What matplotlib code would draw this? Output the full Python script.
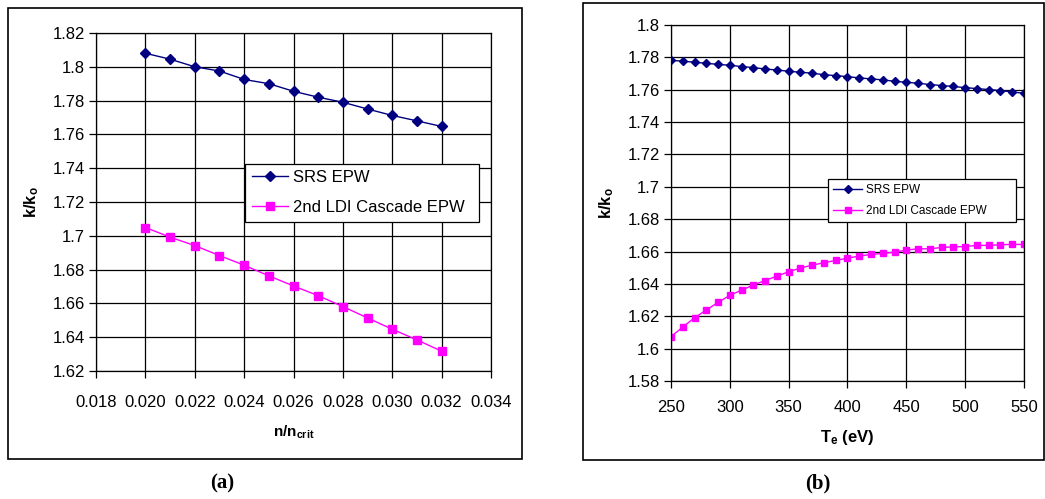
import matplotlib.pyplot as plt
from matplotlib.patches import Rectangle

plt.rcParams['font.family'] = ['Liberation Sans', 'DejaVu Sans']
plt.rcParams['mathtext.fontset'] = 'custom'
plt.rcParams['mathtext.rm'] = 'Liberation Sans:bold'
plt.rcParams['mathtext.it'] = 'Liberation Sans:bold'
plt.rcParams['mathtext.bf'] = 'Liberation Sans:bold'

# panel (a): k/ko vs density
dens = [0.020, 0.021, 0.022, 0.023, 0.024, 0.025, 0.026,
        0.027, 0.028, 0.029, 0.030, 0.031, 0.032]
srs_a = [1.808, 1.8045, 1.800, 1.7975, 1.7925, 1.790, 1.7855,
         1.782, 1.779, 1.775, 1.7712, 1.768, 1.7647]
ldi_a = [1.7049, 1.6992, 1.6942, 1.6883, 1.6826, 1.6763, 1.6703,
         1.6646, 1.6581, 1.6514, 1.6447, 1.6384, 1.6317]
xticks_a = [0.018, 0.020, 0.022, 0.024, 0.026, 0.028, 0.030, 0.032, 0.034]
yticks_a = [1.62, 1.64, 1.66, 1.68, 1.70, 1.72, 1.74, 1.76, 1.78, 1.80, 1.82]

# panel (b): k/ko vs electron temperature
temp = list(range(250, 551, 10))
srs_b = [1.7782, 1.7776, 1.7770, 1.7763, 1.7757, 1.7751, 1.7743, 1.7737,
         1.7728, 1.7722, 1.7714, 1.7708, 1.7702, 1.7693, 1.7687, 1.7681,
         1.7673, 1.7667, 1.7661, 1.7652, 1.7646, 1.7640, 1.7632, 1.7626,
         1.7620, 1.7613, 1.7607, 1.7601, 1.7595, 1.7586, 1.7578]
ldi_b = [1.6074, 1.6133, 1.6191, 1.6238, 1.6286, 1.6329, 1.6362, 1.6393,
         1.6421, 1.6448, 1.6475, 1.6498, 1.6516, 1.6531, 1.6545, 1.6559,
         1.6572, 1.6582, 1.6588, 1.6596, 1.6609, 1.6617, 1.6617, 1.6625,
         1.6629, 1.6631, 1.6638, 1.6638, 1.6642, 1.6644, 1.6644]
xticks_b = [250, 300, 350, 400, 450, 500, 550]
yticks_b = [1.58, 1.60, 1.62, 1.64, 1.66, 1.68, 1.70, 1.72, 1.74, 1.76, 1.78, 1.80]

navy = '#000080'
magenta = '#FF00FF'


def fmt(v):
    s = '%.2f' % v
    if s.endswith('0'):
        s = s[:-1]
    return s


def style_axes(ax):
    ax.grid(True, color='black', linewidth=0.9)
    ax.set_axisbelow(True)
    for sp in ax.spines.values():
        sp.set_color('black')
        sp.set_linewidth(0.9)
    ax.tick_params(direction='out', length=5, width=0.9, labelsize=12, pad=3)


fig = plt.figure(figsize=(10.45, 4.99), dpi=100)

# outer frames
fig.patches.append(Rectangle((0.0077, 0.0802), 0.4919, 0.9038, transform=fig.transFigure,
                             fill=False, edgecolor='black', linewidth=1.2))
fig.patches.append(Rectangle((0.5579, 0.0782), 0.4411, 0.9158, transform=fig.transFigure,
                             fill=False, edgecolor='black', linewidth=1.2))

# (a)
ax1 = fig.add_axes([0.0919, 0.2565, 0.378, 0.6774])
ax1.plot(dens, srs_a, color=navy, marker='D', markersize=5.5, linewidth=1, label='SRS EPW')
ax1.plot(dens, ldi_a, color=magenta, marker='s', markersize=6, linewidth=1,
         label='2nd LDI Cascade EPW')
ax1.set_xlim(0.018, 0.034)
ax1.set_ylim(1.62, 1.82)
ax1.set_xticks(xticks_a)
ax1.set_xticklabels(['%.3f' % v for v in xticks_a])
ax1.set_yticks(yticks_a)
ax1.set_yticklabels([fmt(v) for v in yticks_a])
style_axes(ax1)
ax1.tick_params(axis='x', pad=12)
ax1.set_xlabel(r'n/n$_{crit}$', fontsize=11, fontweight='bold', labelpad=10)
ax1.set_ylabel(r'k/k$_o$', fontsize=12, fontweight='bold', labelpad=8)
leg1 = ax1.legend(loc='lower left', bbox_to_anchor=(0.377, 0.441, 0.593, 0.192),
                  mode='expand', fontsize=12, fancybox=False, framealpha=1,
                  edgecolor='black', handlelength=2.2, borderaxespad=0,
                  labelspacing=0.9, handletextpad=0.3)
leg1.get_frame().set_linewidth(0.9)

# (b)
ax2 = fig.add_axes([0.6421, 0.2365, 0.3378, 0.7134])
ax2.plot(temp, srs_b, color=navy, marker='D', markersize=4, linewidth=1, label='SRS EPW')
ax2.plot(temp, ldi_b, color=magenta, marker='s', markersize=4.5, linewidth=1,
         label='2nd LDI Cascade EPW')
ax2.set_xlim(250, 550)
ax2.set_ylim(1.58, 1.80)
ax2.set_xticks(xticks_b)
ax2.set_yticks(yticks_b)
ax2.set_yticklabels([fmt(v) for v in yticks_b])
style_axes(ax2)
ax2.tick_params(axis='x', pad=9)
ax2.set_xlabel(r'T$_e$ (eV)', fontsize=12, fontweight='bold', labelpad=9)
ax2.set_ylabel(r'k/k$_o$', fontsize=12, fontweight='bold', labelpad=8)
leg2 = ax2.legend(loc='lower left', bbox_to_anchor=(0.445, 0.447, 0.532, 0.132),
                  mode='expand', fontsize=8.5, fancybox=False, framealpha=1,
                  edgecolor='black', handlelength=2.5, borderaxespad=0,
                  labelspacing=0.8, handletextpad=0.3)
leg2.get_frame().set_linewidth(0.9)

fig.text(0.2125, 0.032, '(a)', fontsize=15, fontweight='bold', family='Liberation Serif',
         ha='center', va='center')
fig.text(0.783, 0.032, '(b)', fontsize=15, fontweight='bold', family='Liberation Serif',
         ha='center', va='center')

fig.savefig('out.png', dpi=100)
